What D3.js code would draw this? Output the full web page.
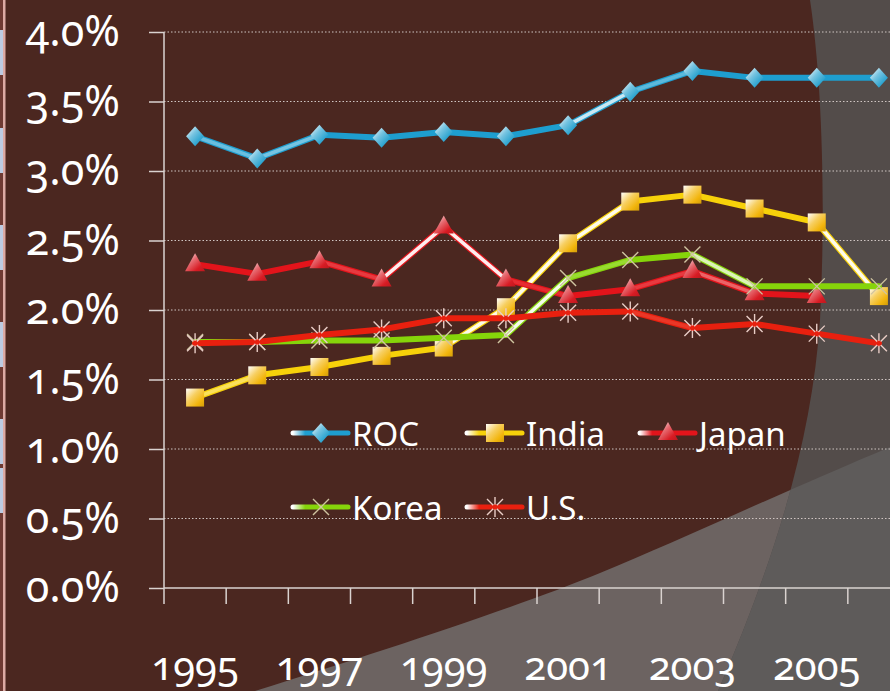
<!DOCTYPE html>
<html><head><meta charset="utf-8">
<script src="https://cdn.jsdelivr.net/npm/d3@7"></script>
<style>
html,body{margin:0;padding:0;background:#4b2720;overflow:hidden;}
svg{display:block;}
text{font-family:"Noto Sans",sans-serif;fill:#fff;font-variant-numeric:oldstyle-nums;}
</style></head><body>
<svg id="chart" width="890" height="691"></svg>
<script>
// ---- data ----
const years = [1995,1996,1997,1998,1999,2000,2001,2002,2003,2004,2005,2006];
const roc   = [3.25,3.09,3.26,3.24,3.28,3.25,3.33,3.57,3.72,3.67,3.67,3.67];
const india = [1.37,1.53,1.59,1.67,1.73,2.02,2.48,2.78,2.83,2.73,2.63,2.10];
const japan = [2.33,2.26,2.35,2.22,2.60,2.22,2.10,2.15,2.28,2.12,2.10,null];
const korea = [1.77,1.77,1.78,1.78,1.80,1.82,2.23,2.36,2.40,2.17,2.17,2.17];
const us    = [1.76,1.77,1.82,1.86,1.94,1.94,1.98,1.99,1.87,1.90,1.83,1.76];
const seriesNames = ["ROC","India","Japan","Korea","U.S."];
const yTicks = [0,0.5,1.0,1.5,2.0,2.5,3.0,3.5,4.0];
const xLabelYears = [1995,1997,1999,2001,2003,2005];

const seriesValues = [roc, india, japan, korea, us];
const seriesStyle = [
  {color:"#1e9ecf", marker:"diamond", fill:"#2aa3cf"},
  {color:"#f7d10a", marker:"square",  fill:"#f2b50c"},
  {color:"#e3141b", marker:"triangle",fill:"#d81c24"},
  {color:"#86d40a", marker:"x",       fill:"#cfc4a0"},
  {color:"#e8200f", marker:"star",    fill:"#e9cdc6"}
];

const svg = d3.select("#chart");
const W = 890, H = 691;

// ---- background ----
svg.append("rect").attr("width",W).attr("height",H).attr("fill","#4b2720");
const defs = svg.append("defs");
const diagPath = "M255,691 C380,652 520,606 600,573 C680,540 760,502 890,447 L890,691 Z";
const curvePath = "M810,0 C822,80 826,200 820,320 C812,440 775,560 718,691 L890,691 L890,0 Z";
defs.append("clipPath").attr("id","clipCurve").append("path").attr("d",curvePath);
svg.append("path").attr("d",diagPath).attr("fill","#6c6361");
svg.append("path").attr("d",curvePath).attr("fill","#534c4a");
svg.append("path").attr("d",diagPath).attr("fill","#5e5b5a").attr("clip-path","url(#clipCurve)");

// left edge strip
svg.append("rect").attr("x",0).attr("y",0).attr("width",3).attr("height",H).attr("fill","#6e3a33");
[[30,75],[128,173],[225,270],[322,367],[419,464],[468,513]].forEach(r=>{
  svg.append("rect").attr("x",0).attr("y",r[0]).attr("width",3).attr("height",r[1]-r[0]).attr("fill","#bccbe2");
});
svg.append("rect").attr("x",3).attr("y",0).attr("width",2.5).attr("height",H).attr("fill","#dcaaa4");

// ---- scales ----
const x = d3.scaleBand().domain(years).range([164, 910]).padding(0);
const cx = d => x(d) + x.bandwidth()/2;
const y = d3.scaleLinear().domain([0,4]).range([588, 32]);

// gridlines
svg.append("g").selectAll("line").data(yTicks.filter(d=>d>0)).join("line")
  .attr("x1",164).attr("x2",W).attr("y1",d=>y(d)).attr("y2",d=>y(d))
  .attr("stroke","#cfc5c2").attr("stroke-width",1).attr("stroke-dasharray","1.5,2");

// axes
const axisColor = "#dad3d0";
const yAxis = svg.append("g").attr("transform","translate(164,0)")
  .call(d3.axisLeft(y).tickValues(yTicks).tickSize(15).tickPadding(29).tickFormat(d=>d.toFixed(1)+"%"));
yAxis.selectAll("path,line").attr("stroke",axisColor).attr("stroke-width",1.5);
yAxis.select(".domain").attr("d","M0,"+y(4)+"V"+y(0));
yAxis.selectAll("text").attr("fill","#fff").style("font-size","43px").style("font-family","'Noto Sans',sans-serif");

const xAxis = svg.append("g").attr("transform","translate(0,588)")
  .call(d3.axisBottom(x).tickValues(xLabelYears).tickSize(0).tickPadding(64));
xAxis.selectAll("path").attr("stroke",axisColor).attr("stroke-width",1.5);
xAxis.select(".domain").attr("d","M164,0H"+W);
xAxis.selectAll("text").attr("fill","#fff").style("font-size","40px").style("font-family","'Noto Sans',sans-serif");
xAxis.append("g").selectAll("line").data(years).join("line")
  .attr("x1",d=>x(d)).attr("x2",d=>x(d)).attr("y1",0).attr("y2",16)
  .attr("stroke",axisColor).attr("stroke-width",1.5);

// ---- gradients for markers ----
seriesStyle.forEach((s,i)=>{
  const g = defs.append("linearGradient").attr("id","mg"+i)
    .attr("x1","0").attr("y1","0").attr("x2","1").attr("y2","1");
  g.append("stop").attr("offset","0%").attr("stop-color","#ffffff");
  g.append("stop").attr("offset","40%").attr("stop-color",d3.interpolateRgb(s.fill,"#fff")(0.35));
  g.append("stop").attr("offset","75%").attr("stop-color",s.fill);
  g.append("stop").attr("offset","100%").attr("stop-color",d3.color(s.fill).darker(0.4));
});

function drawMarker(g, type, px, py, i){
  if(type==="diamond"){
    g.append("path").attr("d",`M${px},${py-10}L${px+9},${py}L${px},${py+10}L${px-9},${py}Z`)
      .attr("fill",`url(#mg${i})`);
  } else if(type==="square"){
    g.append("rect").attr("x",px-9).attr("y",py-9).attr("width",18).attr("height",18)
      .attr("fill",`url(#mg${i})`);
  } else if(type==="triangle"){
    g.append("path").attr("d",`M${px},${py-11}L${px+10},${py+7}L${px-10},${py+7}Z`)
      .attr("fill",`url(#mg${i})`);
  } else if(type==="x"){
    g.append("path").attr("d",`M${px-8},${py-8}L${px+8},${py+8}M${px+8},${py-8}L${px-8},${py+8}`)
      .attr("stroke",seriesStyle[i].fill).attr("stroke-width",1.4).attr("fill","none");
  } else if(type==="star"){
    g.append("path").attr("d",`M${px-8},${py-8}L${px+8},${py+8}M${px+8},${py-8}L${px-8},${py+8}M${px},${py-10}L${px},${py+10}`)
      .attr("stroke",seriesStyle[i].fill).attr("stroke-width",1.4).attr("fill","none");
    g.append("circle").attr("cx",px).attr("cy",py).attr("r",2.5).attr("fill",seriesStyle[i].color);
  }
}

// ---- series ----
seriesValues.forEach((vals,i)=>{
  const s = seriesStyle[i];
  const g = svg.append("g");
  const pts = years.map((yr,j)=>({yr, v:vals[j]})).filter(d=>d.v!==null);
  const line = d3.line().x(d=>cx(d.yr)).y(d=>y(d.v));
  g.append("path").attr("d",line(pts)).attr("fill","none")
    .attr("stroke",s.color).attr("stroke-width",6).attr("stroke-linejoin","round").attr("stroke-linecap","round");
  for(let k=0;k<pts.length-1;k++){
    const a = pts[k], b = pts[k+1];
    const dx = cx(b.yr)-cx(a.yr), dy = y(b.v)-y(a.v);
    const ang = Math.abs(Math.atan2(dy,dx))*180/Math.PI;
    const t = Math.max(0, Math.min(0.92, (ang-13)/20));
    g.append("line").attr("x1",cx(a.yr)).attr("y1",y(a.v)).attr("x2",cx(b.yr)).attr("y2",y(b.v))
      .attr("stroke",d3.interpolateRgb(s.color,"#ffffff")(t)).attr("stroke-width",3.6).attr("stroke-linecap","round");
  }
  pts.forEach(d=>drawMarker(g, s.marker, cx(d.yr), y(d.v), i));
});

// ---- legend ----
const legendPos = [[293,433],[467,433],[640,433],[293,507],[467,507]];
seriesNames.forEach((name,i)=>{
  const s = seriesStyle[i];
  const [lx,ly] = legendPos[i];
  const g = svg.append("g");
  const lg = defs.append("linearGradient").attr("id","lg"+i).attr("gradientUnits","userSpaceOnUse")
    .attr("x1",lx).attr("x2",lx+55).attr("y1",ly).attr("y2",ly);
  lg.append("stop").attr("offset","0%").attr("stop-color","#ffffff");
  lg.append("stop").attr("offset","22%").attr("stop-color",s.color);
  lg.append("stop").attr("offset","100%").attr("stop-color",s.color);
  g.append("line").attr("x1",lx).attr("x2",lx+55).attr("y1",ly).attr("y2",ly)
    .attr("stroke",`url(#lg${i})`).attr("stroke-width",5).attr("stroke-linecap","round");
  drawMarker(g, s.marker, lx+28, ly, i);
  g.append("text").attr("x",lx+59).attr("y",ly+13).text(name)
    .style("font-size","33px");
});
</script>
</body></html>
